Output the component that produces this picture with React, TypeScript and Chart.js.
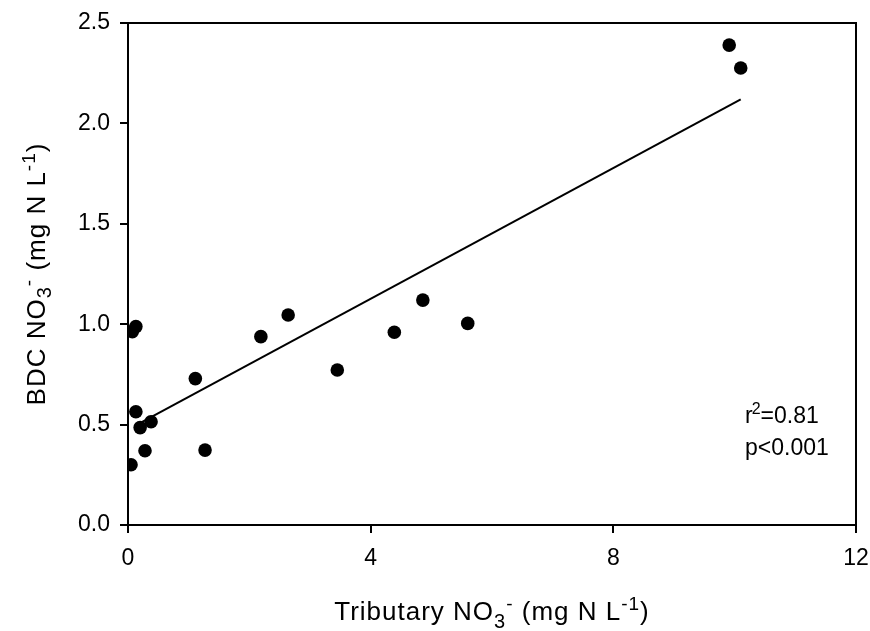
import React, { useEffect, useRef } from "react";
import { Chart, registerables } from "chart.js";

Chart.register(...registerables);

// Data
const tributaryNO3 = [0.07, 0.13, 0.13, 0.2, 0.38, 0.28, 0.05, 1.11, 1.27, 2.19, 2.64, 3.45, 4.39, 4.86, 5.6, 9.91, 10.1];
const bdcNO3 = [0.963, 0.988, 0.564, 0.485, 0.514, 0.37, 0.3, 0.729, 0.373, 0.938, 1.046, 0.772, 0.96, 1.12, 1.004, 2.39, 2.276];
const fitX = [0.12, 10.1];
const fitY = [0.495, 2.12];
const xTicks = [0, 4, 8, 12];
const yTicks = [0, 0.5, 1.0, 1.5, 2.0, 2.5];
const statsLines = ["r²=0.81", "p<0.001"];
const statsAnchor = { x: 10.17, y1: 0.51, y2: 0.35 };

const FONT = "Arial, 'Liberation Sans', Helvetica, sans-serif";

type Seg = { t: string; size: number; dy: number };

const yTitle: Seg[] = [
  { t: "BDC NO", size: 26, dy: 0 },
  { t: "3", size: 20, dy: 6 },
  { t: "-", size: 19, dy: -10 },
  { t: " (mg N L", size: 26, dy: 0 },
  { t: "-1", size: 19, dy: -10 },
  { t: ")", size: 26, dy: 0 },
];
const xTitle: Seg[] = [
  { t: "Tributary NO", size: 26, dy: 0 },
  { t: "3", size: 20, dy: 8 },
  { t: "-", size: 19, dy: -10 },
  { t: " (mg N L", size: 26, dy: 0 },
  { t: "-1", size: 19, dy: -10 },
  { t: ")", size: 26, dy: 0 },
];

function drawRich(ctx: CanvasRenderingContext2D, segs: Seg[], cx: number, cy: number, rot: number) {
  ctx.save();
  ctx.translate(cx, cy);
  ctx.rotate(rot);
  (ctx as any).letterSpacing = "1px";
  let total = 0;
  const widths = segs.map((s) => {
    ctx.font = `${s.size}px ${FONT}`;
    const w = ctx.measureText(s.t).width;
    total += w;
    return w;
  });
  let x = -total / 2;
  ctx.fillStyle = "#000";
  ctx.textBaseline = "alphabetic";
  ctx.textAlign = "left";
  segs.forEach((s, i) => {
    ctx.font = `${s.size}px ${FONT}`;
    ctx.fillText(s.t, x, s.dy);
    x += widths[i];
  });
  ctx.restore();
}

const decorPlugin = {
  id: "decor",
  afterDraw(chart: any) {
    const { ctx, chartArea, scales } = chart;
    ctx.save();
    // top and right frame
    ctx.strokeStyle = "#000";
    ctx.lineWidth = 2;
    ctx.beginPath();
    ctx.moveTo(chartArea.left - 1, chartArea.top);
    ctx.lineTo(chartArea.right, chartArea.top);
    ctx.lineTo(chartArea.right, chartArea.bottom + 1);
    ctx.stroke();
    // stats text
    const sx = scales.x.getPixelForValue(statsAnchor.x);
    const y1 = scales.y.getPixelForValue(statsAnchor.y1);
    const y2 = scales.y.getPixelForValue(statsAnchor.y2);
    ctx.fillStyle = "#000";
    ctx.textAlign = "left";
    ctx.textBaseline = "alphabetic";
    const first = statsLines[0];
    ctx.font = `23px ${FONT}`;
    ctx.fillText(first[0], sx, y1);
    let x = sx + ctx.measureText(first[0]).width - 1;
    ctx.font = `16px ${FONT}`;
    ctx.fillText("2", x, y1 - 9);
    x += ctx.measureText("2").width;
    ctx.font = `23px ${FONT}`;
    ctx.fillText(first.slice(2), x, y1);
    ctx.fillText(statsLines[1], sx, y2);
    ctx.restore();
    // axis titles
    drawRich(ctx, yTitle, 45, (chartArea.top + chartArea.bottom) / 2, -Math.PI / 2);
    drawRich(ctx, xTitle, (chartArea.left + chartArea.right) / 2, 620, 0);
  },
};

export default function App() {
  const ref = useRef<HTMLCanvasElement>(null);
  useEffect(() => {
    if (!ref.current) return;
    const chart = new Chart(ref.current, {
      type: "scatter",
      data: {
        datasets: [
          {
            label: "Observations",
            data: tributaryNO3.map((x, i) => ({ x, y: bdcNO3[i] })),
            pointRadius: 6.8,
            pointBackgroundColor: "#000",
            pointBorderColor: "#000",
            borderWidth: 0,
            showLine: false,
          },
          {
            label: "Fit",
            data: fitX.map((x, i) => ({ x, y: fitY[i] })),
            showLine: true,
            pointRadius: 0,
            borderColor: "#000",
            borderWidth: 2,
          },
        ],
      },
      options: {
        responsive: false,
        animation: false,
        layout: { padding: { top: 23, right: 14, left: 0, bottom: 0 } },
        plugins: { legend: { display: false }, tooltip: { enabled: false } },
        scales: {
          x: {
            type: "linear",
            min: 0,
            max: 12,
            afterBuildTicks: (s: any) => {
              s.ticks = xTicks.map((v) => ({ value: v }));
            },
            ticks: { color: "#000", font: { size: 23, family: FONT }, padding: 12, maxRotation: 0 },
            grid: { drawOnChartArea: false, drawTicks: true, tickLength: 8, color: "#000", lineWidth: 2 },
            border: { color: "#000", width: 2 },
            afterFit: (s: any) => {
              s.height = 106;
              s.paddingLeft = 0;
              s.paddingRight = 0;
            },
          },
          y: {
            type: "linear",
            min: 0,
            max: 2.5,
            afterBuildTicks: (s: any) => {
              s.ticks = yTicks.map((v) => ({ value: v }));
            },
            ticks: {
              color: "#000",
              font: { size: 23, family: FONT },
              padding: 10,
              callback: (v: any) => Number(v).toFixed(1),
            },
            grid: { drawOnChartArea: false, drawTicks: true, tickLength: 8, color: "#000", lineWidth: 2 },
            border: { color: "#000", width: 2 },
            afterFit: (s: any) => {
              s.width = 128;
              s.paddingTop = 0;
              s.paddingBottom = 0;
            },
          },
        },
      },
      plugins: [decorPlugin],
    });
    return () => chart.destroy();
  }, []);
  return (
    <div style={{ position: "absolute", left: 0, top: 0, width: 870, height: 631, background: "#fff" }}>
      <canvas ref={ref} width={870} height={631} />
    </div>
  );
}
